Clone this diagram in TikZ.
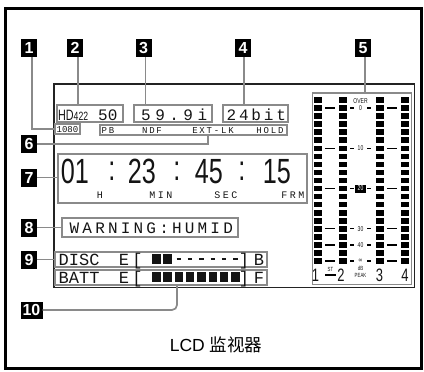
\documentclass[tikz,border=0pt]{standalone}
\usepackage{fontspec}
\usetikzlibrary{fit}
\newfontfamily\lcdm{Liberation Mono}
\newfontfamily\lcdn{Liberation Sans}[FakeStretch=0.72]
\newfontfamily\mkf{Liberation Sans}
\newfontfamily\capf{Liberation Sans}
\newfontfamily\cjk{Noto Sans CJK SC}
\newcommand\fs[1]{\fontsize{#1}{#1}\selectfont}
\definecolor{lg}{RGB}{138,138,138}
\definecolor{dk}{RGB}{35,35,35}
\definecolor{ink}{RGB}{20,20,20}
\tikzset{
  gbox/.style={draw=lg, line width=1.6pt, inner sep=0pt, rectangle},
  lead/.style={draw=lg, line width=1.7pt},
  mk/.style={fill=black, text=white, inner sep=0pt, minimum width=16pt, minimum height=18pt, font=\mkf\bfseries\fs{16}},
  lcd/.style={inner sep=0pt, text=ink},
  tick/.style={line width=1.3pt},
}
\begin{document}
\begin{tikzpicture}[x=1pt,y=-1pt]
\useasboundingbox (0,0) rectangle (424,372);
\draw[line width=2.5pt] (5.5,8.5) rectangle (421.5,368.5);
% LCD frame
\draw[dk, line width=1.4pt] (54,84) rectangle (414.5,287.5);
% boxes
\node[gbox, fit={(55,124)(80,134)}] (b1080) {};
\node[gbox, fit={(57,105)(123,122)}] (hd) {};
\node[gbox, fit={(134,105)(212,122)}] (fr) {};
\node[gbox, fit={(223,105)(288,122)}] (bit) {};
\node[gbox, fit={(100,125)(287,135)}] (st) {};
\node[gbox, fit={(58,154)(307,203)}] (tc) {};
\node[gbox, fit={(62,218)(238,237)}] (warn) {};
\node[gbox, fit={(55,252)(267,267)}] (disc) {};
\node[gbox, fit={(55,270)(267,285)}] (batt) {};
\node[gbox, fit={(312.5,93)(411.5,284.5)}] (meter) {};
% markers
\node[mk] (m1) at (29,48) {1};
\node[mk] (m2) at (75,48) {2};
\node[mk] (m3) at (143.5,48) {3};
\node[mk] (m4) at (243,48) {4};
\node[mk] (m5) at (363,48) {5};
\node[mk] (m6) at (29,144) {6};
\node[mk] (m7) at (29,177.5) {7};
\node[mk] (m8) at (29,227.5) {8};
\node[mk] (m9) at (29,259.5) {9};
\node[mk, minimum width=22pt, minimum height=17pt] (m10) at (31.5,310) {10};
% leaders
\draw[lead] ([xshift=3pt]m1.south) |- (b1080.west);
\draw[lead] ([xshift=3pt]m2.south) -- ([xshift=3pt]m2.south |- hd.north);
\draw[lead] ([xshift=2pt]m3.south) -- ([xshift=2pt]m3.south |- fr.north);
\draw[lead] ([xshift=1pt]m4.south) -- ([xshift=1pt]m4.south |- bit.north);
\draw[lead] ([xshift=2pt]m5.south) -- ([xshift=2pt]m5.south |- meter.north);
\draw[lead] (m6.east) -| ([xshift=14.5pt]st.south);
\draw[lead] (m7.east) -- (m7.east -| tc.west);
\draw[lead] (m8.east) -- (m8.east -| warn.west);
\draw[lead] (m9.east) -- (m9.east -| disc.west);
\draw[lead, rounded corners=5pt] (m10.east) -| ([xshift=16pt]batt.south);
% top row texts
\node[lcd, font=\lcdm\fs{9}] (t1080) at (67.5,129.5) {1080};
\node[lcd, anchor=base west, font=\lcdn\fs{15}] (tHD) at (58,120) {HD};
\node[lcd, anchor=base west, font=\lcdn\fs{12}] (t422) at (73.5,120) {422};
\node[lcd, anchor=base west, font=\lcdm\fs{16}] (t50) at (98,120) {50};
\node[lcd, anchor=base west, font=\lcdm\fs{16}\addfontfeatures{LetterSpace=28}] (t599) at (141,120) {59.9i};
\node[lcd, anchor=base west, font=\lcdm\fs{16}\addfontfeatures{LetterSpace=17.5}] (t24) at (226.5,120) {24bit};
% status
\node[lcd, anchor=base, font=\lcdm\fs{9}\addfontfeatures{LetterSpace=20}] (sPB) at (108,133) {PB};
\node[lcd, anchor=base, font=\lcdm\fs{9}\addfontfeatures{LetterSpace=20}] (sNDF) at (152,133) {NDF};
\node[lcd, anchor=base, font=\lcdm\fs{9}\addfontfeatures{LetterSpace=20}] (sEXT) at (213,133) {EXT-LK};
\node[lcd, anchor=base, font=\lcdm\fs{9}\addfontfeatures{LetterSpace=20}] (sHOLD) at (270,133) {HOLD};
% timecode
\node[lcd, anchor=base, font=\lcdn\fs{35}] (d1) at (75,183) {01};
\node[lcd, anchor=base, font=\lcdn\fs{35}] (d2) at (142,183) {23};
\node[lcd, anchor=base, font=\lcdn\fs{35}] (d3) at (209,183) {45};
\node[lcd, anchor=base, font=\lcdn\fs{35}] (d4) at (277,183) {15};
\node[lcd, anchor=base, font=\lcdn\fs{35}] (c1) at (112,180) {:};
\node[lcd, anchor=base, font=\lcdn\fs{35}] (c2) at (177,180) {:};
\node[lcd, anchor=base, font=\lcdn\fs{35}] (c3) at (242,180) {:};
\node[lcd, anchor=base, font=\lcdm\fs{10}\addfontfeatures{LetterSpace=25}] (lH) at (100,198.5) {H};
\node[lcd, anchor=base, font=\lcdm\fs{10}\addfontfeatures{LetterSpace=25}] (lMIN) at (161,198.5) {MIN};
\node[lcd, anchor=base, font=\lcdm\fs{10}\addfontfeatures{LetterSpace=25}] (lSEC) at (226,198.5) {SEC};
\node[lcd, anchor=base, font=\lcdm\fs{10}\addfontfeatures{LetterSpace=25}] (lFRM) at (293,198.5) {FRM};
% warning
\node[lcd, anchor=base west, font=\lcdm\fs{16}\addfontfeatures{LetterSpace=20}] (tw) at (69.5,233) {WARNING:HUMID};
% disc / batt
\node[lcd, anchor=base west, font=\lcdm\fs{17}] (tdisc) at (58.5,265.5) {DISC};
\node[lcd, anchor=base, font=\lcdm\fs{17}] (tde) at (124,265.5) {E};
\node[lcd, anchor=base, font=\lcdm\fs{17}] (tdl) at (137.5,265.5) {[};
\node[lcd, anchor=base, font=\lcdm\fs{17}] (tdr) at (244,265.5) {]};
\node[lcd, anchor=base, font=\lcdm\fs{17}] (tdb) at (259,265.5) {B};
\node[lcd, anchor=base west, font=\lcdm\fs{17}] (tbatt) at (58.5,283.5) {BATT};
\node[lcd, anchor=base, font=\lcdm\fs{17}] (tbe) at (124,283.5) {E};
\node[lcd, anchor=base, font=\lcdm\fs{17}] (tbl) at (137.5,283.5) {[};
\node[lcd, anchor=base, font=\lcdm\fs{17}] (tbr) at (244,283.5) {]};
\node[lcd, anchor=base, font=\lcdm\fs{17}] (tbf) at (259,283.5) {F};
\foreach \k in {0,1} \fill[ink] (152+11.3*\k,254) rectangle ++(8.5,10);
\foreach \k in {2,...,7} \draw[ink, line width=1.2pt] (154+11.3*\k,259) -- ++(4.5,0);
\foreach \k in {0,...,7} \fill[ink] (152+11.3*\k,272) rectangle ++(8.5,10);
% meter bars
\foreach \k in {0,...,20} {
  \foreach \x in {314,339,376,401} \fill (\x,97.2+8.05*\k) rectangle ++(8,5.6);
}
% ticks
\foreach \k/\lab in {1/0,6/10,16/30,18/40,20/∞} {
  \draw[tick] (325,100+8.05*\k) -- ++(10,0);
  \draw[tick] (387,100+8.05*\k) -- ++(10,0);
  \draw[tick] (350,100+8.05*\k) -- ++(4,0);
  \draw[tick] (367,100+8.05*\k) -- ++(4,0);
  \node[lcd, font=\lcdn\fs{7}] (tl\k) at (360.5,100+8.05*\k) {\lab};
}
\draw[tick] (325,188.55) -- ++(10,0);
\draw[tick] (387,188.55) -- ++(10,0);
\draw[tick] (350,188.55) -- ++(4,0);
\draw[tick] (367,188.55) -- ++(4,0);
\node[fill=black, text=white, inner sep=0pt, minimum width=11pt, minimum height=8pt, font=\lcdn\fs{7}] (tl11) at (360.5,188.55) {20};
\node[lcd, font=\lcdn\fs{7}] (tover) at (360.5,101) {OVER};
% bottom labels
\node[lcd, anchor=base, font=\lcdn\fs{18}] (n1) at (315.5,281) {1};
\node[lcd, anchor=base, font=\lcdn\fs{18}] (n2) at (341,281) {2};
\node[lcd, anchor=base, font=\lcdn\fs{18}] (n3) at (379.5,281) {3};
\node[lcd, anchor=base, font=\lcdn\fs{18}] (n4) at (405,281) {4};
\node[lcd, anchor=base, font=\lcdn\fs{6}] (nst) at (330.5,271) {ST};
\draw[line width=1.8pt] (325,275) -- (336,275);
\node[lcd, anchor=base, font=\lcdn\fs{6}] (ndb) at (360.5,270.5) {dB};
\node[lcd, anchor=base, font=\lcdn\fs{6}] (npk) at (360.5,277.5) {PEAK};
% caption
\node[anchor=base, inner sep=0pt] (cap) at (216,351) {\capf\fs{17.5}LCD {\cjk\fs{17.5}监视器}};
\end{tikzpicture}
\end{document}
